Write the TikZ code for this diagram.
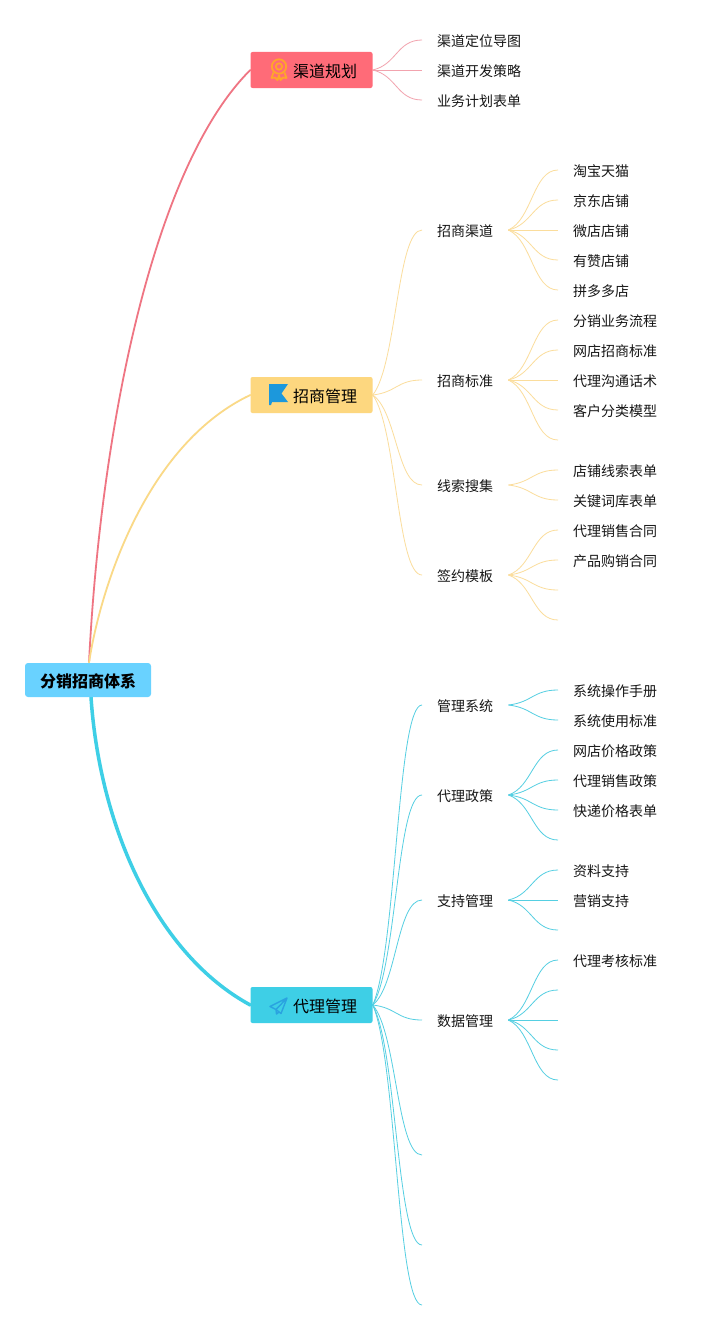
\documentclass[tikz,border=0pt]{standalone}
\usepackage{fontspec}
\setmainfont{Noto Sans CJK SC}
\usetikzlibrary{backgrounds,calc}
\definecolor{cred}{HTML}{FF6B78}
\definecolor{cyel}{HTML}{FDD77F}
\definecolor{cblu}{HTML}{3ECFE6}
\definecolor{croot}{HTML}{69D2FF}
\definecolor{lred}{HTML}{F2A3AE}
\definecolor{lyel}{HTML}{FBDD9C}
\definecolor{lblu}{HTML}{55CFE2}
\definecolor{ired}{HTML}{EF7583}
\definecolor{iyel}{HTML}{FAD987}
\definecolor{iora}{HTML}{FFA62B}
\definecolor{iflag}{HTML}{1C98DC}
\definecolor{iplane}{HTML}{2AA3E0}
\definecolor{ink}{HTML}{161616}
\tikzset{
  rootbox/.style={fill=croot,rounded corners=3pt,minimum width=126pt,minimum height=34pt,inner sep=0pt,text height=15pt,text depth=0pt,font=\fontsize{16}{16}\selectfont\bfseries,text=black},
  mainbox/.style={fill=#1,rounded corners=2pt,minimum width=122pt,minimum height=36pt,inner sep=0pt,text height=15pt,text depth=0pt,font=\fontsize{16}{16}\selectfont,text=black},
  midnode/.style={anchor=west,inner xsep=15pt,inner ysep=2pt,text height=13pt,text depth=0pt,font=\fontsize{14}{14}\selectfont,text=ink},
  lnkline/.style={line width=0.8pt},
  mainline/.style={line width=#1,line cap=round}
}
\newcommand{\lnkany}[3]{\draw[lnkline,#3] let \p1=(#1),\p2=(#2) in (\p1) .. controls ({\x1+24pt},{\y1+0.18*(\y2-\y1)}) and ({\x2-25pt},\y2) .. (\p2);}
\newcommand{\lnk}[3]{\lnkany{#1.east}{#2.west}{#3}}
\newcommand{\lnkc}[3]{\lnkany{#1.east}{#2}{#3}}
\begin{document}
\begin{tikzpicture}[x=1pt,y=-1pt]
\useasboundingbox (0,0) rectangle (717,1330);
% root and main
\node[rootbox] (root) at (88,680) {分销招商体系};
\node[mainbox=cred] (m1) at (311.5,70) {\hspace*{27pt}渠道规划};
\node[mainbox=cyel] (m2) at (311.5,395) {\hspace*{27pt}招商管理};
\node[mainbox=cblu] (m3) at (311.5,1005) {\hspace*{27pt}代理管理};
% level 2
\node[midnode] (a1) at (422,40) {渠道定位导图};
\node[midnode] (a2) at (422,70) {渠道开发策略};
\node[midnode] (a3) at (422,100) {业务计划表单};
\node[midnode] (b1) at (422,230) {招商渠道};
\node[midnode] (b2) at (422,380) {招商标准};
\node[midnode] (b3) at (422,485) {线索搜集};
\node[midnode] (b4) at (422,575) {签约模板};
\node[midnode] (c1) at (422,705) {管理系统};
\node[midnode] (c2) at (422,795) {代理政策};
\node[midnode] (c3) at (422,900) {支持管理};
\node[midnode] (c4) at (422,1020) {数据管理};
\coordinate (c5) at (422,1155);
\coordinate (c6) at (422,1245);
\coordinate (c7) at (422,1305);
% level 3
\node[midnode] (b11) at (558,170) {淘宝天猫};
\node[midnode] (b12) at (558,200) {京东店铺};
\node[midnode] (b13) at (558,230) {微店店铺};
\node[midnode] (b14) at (558,260) {有赞店铺};
\node[midnode] (b15) at (558,290) {拼多多店};
\node[midnode] (b21) at (558,320) {分销业务流程};
\node[midnode] (b22) at (558,350) {网店招商标准};
\node[midnode] (b23) at (558,380) {代理沟通话术};
\node[midnode] (b24) at (558,410) {客户分类模型};
\coordinate (b25) at (558,440);
\node[midnode] (b31) at (558,470) {店铺线索表单};
\node[midnode] (b32) at (558,500) {关键词库表单};
\node[midnode] (b41) at (558,530) {代理销售合同};
\node[midnode] (b42) at (558,560) {产品购销合同};
\coordinate (b43) at (558,590);
\coordinate (b44) at (558,620);
\node[midnode] (c11) at (558,690) {系统操作手册};
\node[midnode] (c12) at (558,720) {系统使用标准};
\node[midnode] (c21) at (558,750) {网店价格政策};
\node[midnode] (c22) at (558,780) {代理销售政策};
\node[midnode] (c23) at (558,810) {快递价格表单};
\coordinate (c24) at (558,840);
\node[midnode] (c31) at (558,870) {资料支持};
\node[midnode] (c32) at (558,900) {营销支持};
\coordinate (c33) at (558,930);
\node[midnode] (c41) at (558,960) {代理考核标准};
\coordinate (c42) at (558,990);
\coordinate (c43) at (558,1020);
\coordinate (c44) at (558,1050);
\coordinate (c45) at (558,1080);
% icons
\draw[iora,line width=1.8pt] (279,66.5) circle (7.2);
\draw[iora,line width=1.8pt] (279,66.5) circle (3.2);
\draw[iora,line width=1.8pt,line join=round] (273.5,72.5) -- (271.5,78) -- (275,77.5) -- (277.5,80) -- (279,75.5) -- (280.5,80) -- (283,77.5) -- (286.5,78) -- (284.5,72.5);
\fill[iflag] (269,384) -- (288,384) -- (281.5,393.5) -- (288,402) -- (272,402) -- (271,405) -- (269,405) -- cycle;
\draw[iplane,line width=1.4pt,line join=round] (287,998) -- (270,1006.5) -- (276,1009.5) -- (287,998) -- (281,1013.5) -- (276,1009.5) -- (276.5,1014) -- (279,1012);
% connectors
\begin{scope}[on background layer]
\fill[white] (0,0) rectangle (717,1330);
\draw[mainline=1.8pt,ired] ([xshift=1pt]root.north) .. controls (100,440) and (150,170) .. (m1.west);
\draw[mainline=1.8pt,iyel] ([xshift=1pt]root.north) .. controls (100,590) and (145,445) .. (m2.west);
\draw[mainline=3.5pt,cblu] ([xshift=3pt]root.south) .. controls (100,830) and (158,955) .. (m3.west);
\lnk{m1}{a1}{lred}\lnk{m1}{a2}{lred}\lnk{m1}{a3}{lred}
\lnk{m2}{b1}{lyel}\lnk{m2}{b2}{lyel}\lnk{m2}{b3}{lyel}\lnk{m2}{b4}{lyel}
\lnk{m3}{c1}{lblu}\lnk{m3}{c2}{lblu}\lnk{m3}{c3}{lblu}\lnk{m3}{c4}{lblu}
\lnkc{m3}{c5}{lblu}\lnkc{m3}{c6}{lblu}\lnkc{m3}{c7}{lblu}
\lnk{b1}{b11}{lyel}\lnk{b1}{b12}{lyel}\lnk{b1}{b13}{lyel}\lnk{b1}{b14}{lyel}\lnk{b1}{b15}{lyel}
\lnk{b2}{b21}{lyel}\lnk{b2}{b22}{lyel}\lnk{b2}{b23}{lyel}\lnk{b2}{b24}{lyel}\lnkc{b2}{b25}{lyel}
\lnk{b3}{b31}{lyel}\lnk{b3}{b32}{lyel}
\lnk{b4}{b41}{lyel}\lnk{b4}{b42}{lyel}\lnkc{b4}{b43}{lyel}\lnkc{b4}{b44}{lyel}
\lnk{c1}{c11}{lblu}\lnk{c1}{c12}{lblu}
\lnk{c2}{c21}{lblu}\lnk{c2}{c22}{lblu}\lnk{c2}{c23}{lblu}\lnkc{c2}{c24}{lblu}
\lnk{c3}{c31}{lblu}\lnk{c3}{c32}{lblu}\lnkc{c3}{c33}{lblu}
\lnk{c4}{c41}{lblu}\lnkc{c4}{c42}{lblu}\lnkc{c4}{c43}{lblu}\lnkc{c4}{c44}{lblu}\lnkc{c4}{c45}{lblu}
\end{scope}
\end{tikzpicture}
\end{document}
